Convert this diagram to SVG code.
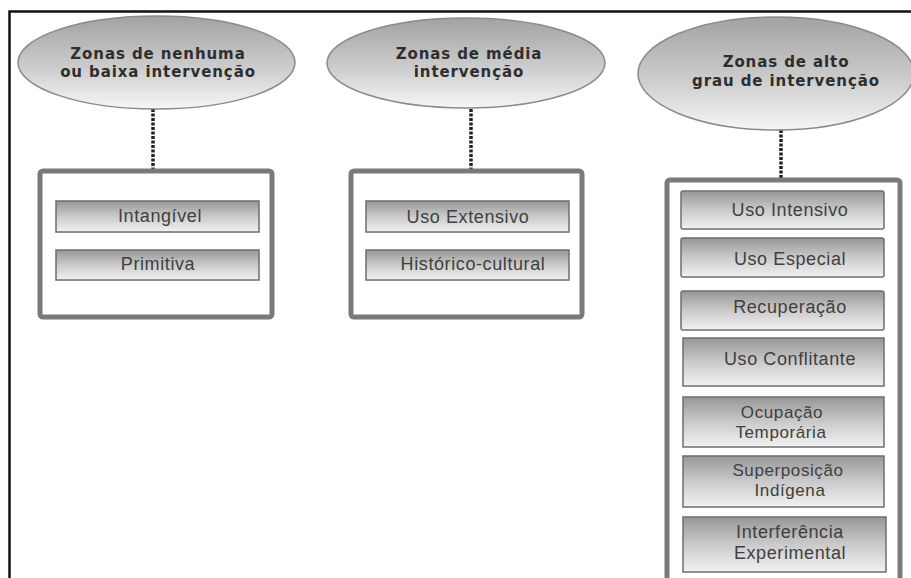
<svg xmlns="http://www.w3.org/2000/svg" width="911" height="578" viewBox="0 0 911 578">
<defs>
<linearGradient id="ellG" x1="0" y1="0" x2="0" y2="1">
<stop offset="0" stop-color="#a2a2a2"/>
<stop offset="0.55" stop-color="#cccccc"/>
<stop offset="1" stop-color="#f6f6f6"/>
</linearGradient>
<linearGradient id="itemG" x1="0" y1="0" x2="0" y2="1">
<stop offset="0" stop-color="#979797"/>
<stop offset="0.5" stop-color="#cacaca"/>
<stop offset="1" stop-color="#f2f2f2"/>
</linearGradient>
<style>
.ell{fill:url(#ellG);stroke:#8a8a8a;stroke-width:1.5}
.title{font-family:"DejaVu Sans",Verdana,sans-serif;font-weight:bold;font-size:15px;letter-spacing:0.9px;fill:#2e2e2e;text-anchor:middle}
.box{fill:#ffffff;stroke:#7a7a7a;stroke-width:5}
.item{fill:url(#itemG);stroke:#6e6e6e;stroke-width:1.5}
.lbl{font-family:"Liberation Sans",Arial,sans-serif;font-size:18px;letter-spacing:0.6px;fill:#404040;text-anchor:middle}
.lbl2{font-family:"Liberation Sans",Arial,sans-serif;font-size:17px;letter-spacing:0.6px;fill:#404040;text-anchor:middle}
.conn{stroke:#222;stroke-width:3.5;stroke-dasharray:3 1.5;fill:none}
.frame{stroke:#111;stroke-width:2.5;fill:none}
</style>
</defs>
<rect width="911" height="578" fill="#ffffff"/>
<path class="frame" d="M9.5,578 L9.5,11.5 L911,11.5"/>
<g id="connectors">
<line class="conn" x1="153" y1="109" x2="153" y2="170"/>
<line class="conn" x1="471" y1="109" x2="471" y2="170"/>
<line class="conn" x1="781" y1="130" x2="781" y2="179"/>
</g>
<g id="zone-low">
<ellipse class="ell" cx="156.5" cy="62.5" rx="138.5" ry="46.5"/>
<text class="title" x="158" y="59">Zonas de nenhuma</text>
<text class="title" x="158" y="77">ou baixa intervenção</text>
</g>
<g id="zone-medium">
<ellipse class="ell" cx="466" cy="63" rx="139" ry="45"/>
<text class="title" x="469" y="59">Zonas de média</text>
<text class="title" x="469" y="77">intervenção</text>
</g>
<g id="zone-high">
<ellipse class="ell" cx="776" cy="73.5" rx="138" ry="56.5"/>
<text class="title" x="786" y="67">Zonas de alto</text>
<text class="title" x="786" y="86">grau de intervenção</text>
</g>
<g id="box-low">
<rect class="box" x="40" y="171" width="232" height="146" rx="3"/>
<rect class="item" x="56" y="201" width="203" height="31"/>
<text class="lbl" x="160" y="222">Intangível</text>
<rect class="item" x="56" y="250" width="203" height="30"/>
<text class="lbl" x="158" y="270">Primitiva</text>
</g>
<g id="box-medium">
<rect class="box" x="351" y="171" width="231" height="146" rx="3"/>
<rect class="item" x="366" y="201" width="203" height="31"/>
<text class="lbl" x="468" y="223">Uso Extensivo</text>
<rect class="item" x="366" y="250" width="203" height="30"/>
<text class="lbl" x="473" y="270">Histórico-cultural</text>
</g>
<g id="box-high">
<rect class="box" x="667" y="180" width="233" height="420" rx="3"/>
<rect class="item" x="681" y="191" width="203" height="38" rx="2"/>
<text class="lbl" x="790" y="216">Uso Intensivo</text>
<rect class="item" x="681" y="238" width="203" height="39" rx="2"/>
<text class="lbl" x="790" y="265">Uso Especial</text>
<rect class="item" x="681" y="291" width="203" height="39" rx="2"/>
<text class="lbl" x="790" y="313">Recuperação</text>
<rect class="item" x="683" y="338" width="201" height="48"/>
<text class="lbl" x="790" y="365">Uso Conflitante</text>
<rect class="item" x="683" y="397" width="201" height="50"/>
<text class="lbl2" x="782" y="418">Ocupação</text>
<text class="lbl2" x="781" y="438">Temporária</text>
<rect class="item" x="683" y="456" width="201" height="51"/>
<text class="lbl2" x="788" y="476">Superposição</text>
<text class="lbl2" x="790" y="496">Indígena</text>
<rect class="item" x="683" y="517" width="203" height="55"/>
<text class="lbl" x="790" y="538">Interferência</text>
<text class="lbl" x="790" y="559">Experimental</text>
</g>
</svg>
